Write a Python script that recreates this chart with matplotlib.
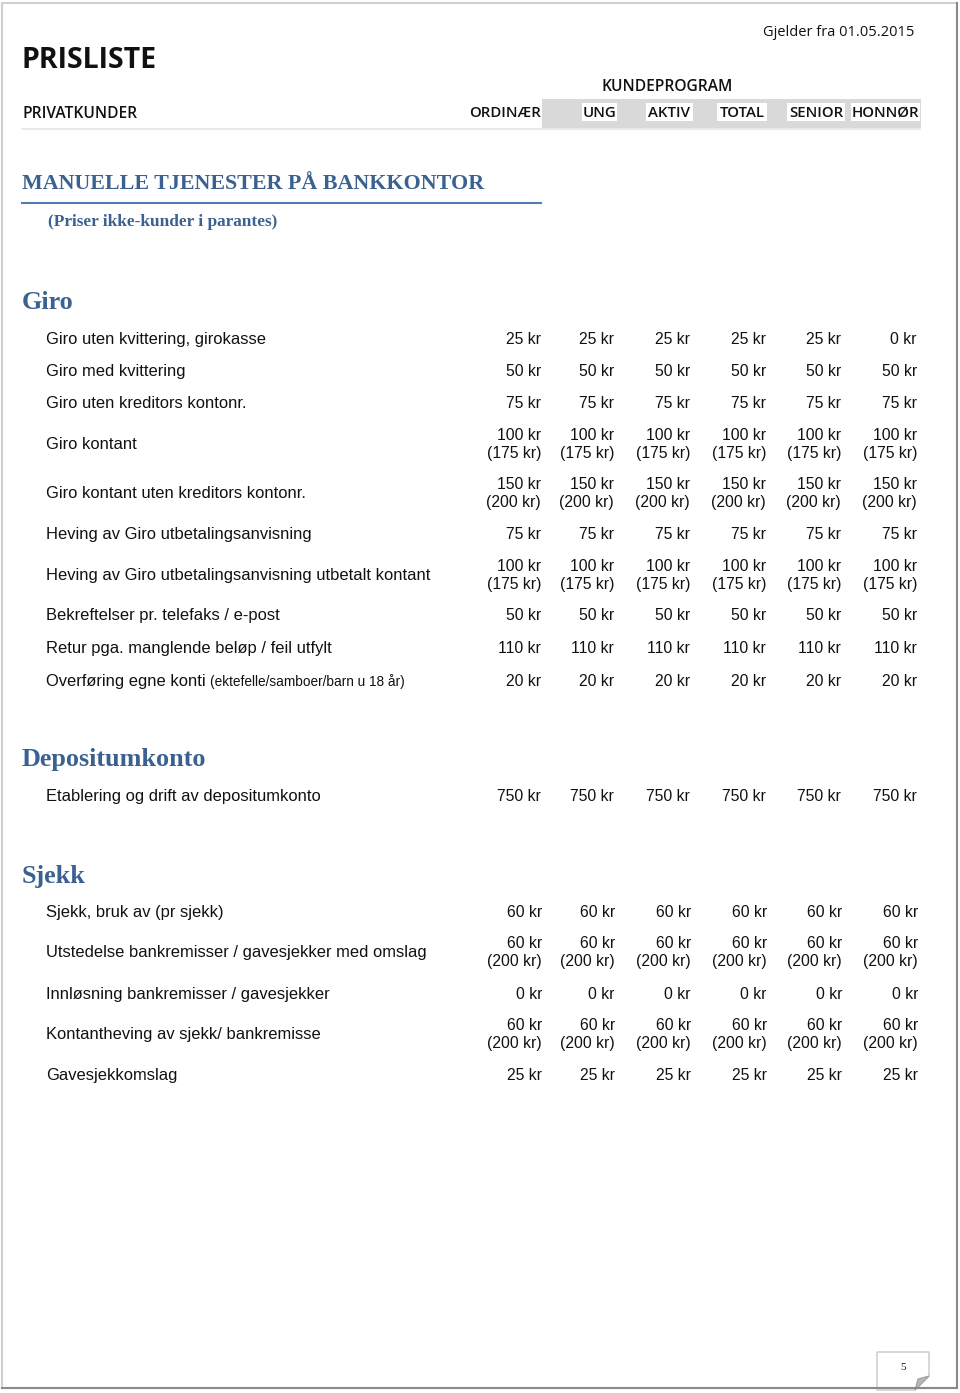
import matplotlib
matplotlib.use("Agg")
import matplotlib.pyplot as plt
from matplotlib.patches import Rectangle, Polygon

# ---------------- data ----------------
columns = ["ORDINÆR", "UNG", "AKTIV", "TOTAL", "SENIOR", "HONNØR"]

giro_items = [
    "Giro uten kvittering, girokasse",
    "Giro med kvittering",
    "Giro uten kreditors kontonr.",
    "Giro kontant",
    "Giro kontant uten kreditors kontonr.",
    "Heving av Giro utbetalingsanvisning",
    "Heving av Giro utbetalingsanvisning utbetalt kontant",
    "Bekreftelser pr. telefaks / e-post",
    "Retur pga. manglende beløp / feil utfylt",
    "Overføring egne konti",
]
giro_notes = ["", "", "", "", "", "", "", "", "", "(ektefelle/samboer/barn u 18 år)"]
giro_prices = [
    [25, 25, 25, 25, 25, 0],
    [50, 50, 50, 50, 50, 50],
    [75, 75, 75, 75, 75, 75],
    [100, 100, 100, 100, 100, 100],
    [150, 150, 150, 150, 150, 150],
    [75, 75, 75, 75, 75, 75],
    [100, 100, 100, 100, 100, 100],
    [50, 50, 50, 50, 50, 50],
    [110, 110, 110, 110, 110, 110],
    [20, 20, 20, 20, 20, 20],
]
giro_noncust = [None, None, None, 175, 200, None, 175, None, None, None]

depo_items = ["Etablering og drift av depositumkonto"]
depo_notes = [""]
depo_prices = [[750, 750, 750, 750, 750, 750]]
depo_noncust = [None]

sjekk_items = [
    "Sjekk, bruk av (pr sjekk)",
    "Utstedelse bankremisser / gavesjekker med omslag",
    "Innløsning bankremisser / gavesjekker",
    "Kontantheving av sjekk/ bankremisse",
    "Gavesjekkomslag",
]
sjekk_notes = ["", "", "", "", ""]
sjekk_prices = [
    [60, 60, 60, 60, 60, 60],
    [60, 60, 60, 60, 60, 60],
    [0, 0, 0, 0, 0, 0],
    [60, 60, 60, 60, 60, 60],
    [25, 25, 25, 25, 25, 25],
]
sjekk_noncust = [None, 200, None, 200, None]

# ---------------- layout ----------------
W, H = 960, 1393
fig = plt.figure(figsize=(W / 100, H / 100), dpi=100)
ax = fig.add_axes([0, 0, 1, 1])
ax.set_xlim(0, W)
ax.set_ylim(H, 0)
ax.axis("off")

SANS = ["Liberation Sans", "DejaVu Sans"]
HEAD = ["Open Sans", "DejaVu Sans"]
SERIF = ["Liberation Serif", "DejaVu Serif"]
BLUE = "#3A6190"
LABEL_FS = 11.85
VALUE_FS = 11.3
INK = "#111111"
DY = 1.5  # small baseline nudge

# page border
ax.add_patch(Rectangle((2, 3), 955, 1385, fill=False, ec="#d0d0d0", lw=1.5))
ax.plot([957, 957], [3, 1388], color="#8a8a8a", lw=1.5)
ax.plot([2, 957], [1388, 1388], color="#8a8a8a", lw=1.5)

# header
ax.text(22, 61, "PRISLISTE", family=HEAD, fontsize=20.5, weight="bold", va="center", ha="left", color=INK)
ax.text(914, 32.5, "Gjelder fra 01.05.2015", family=HEAD, fontsize=10.5, weight="medium",
        va="center", ha="right", color=INK)
ax.text(22, 113.5, "PRIVATKUNDER", family=HEAD, fontsize=11.2, weight="semibold", va="center", ha="left", color=INK)
ax.text(667, 87, "KUNDEPROGRAM", family=HEAD, fontsize=11.2, weight="semibold", va="center", ha="center", color=INK)
ax.plot([22, 920], [129, 129], color="#e6e6e6", lw=1.2)
ax.add_patch(Rectangle((542, 99), 379, 29, fc="#d9d9d9", ec="none"))
label_boxes = [(582, 35), (646, 47), (717, 50), (787, 58), (851, 69)]
for (bx, bw), lab in zip(label_boxes, columns[1:]):
    ax.add_patch(Rectangle((bx, 103), bw, 18, fc="white", ec="none"))
    ax.text(bx + bw / 2, 113, lab, family=HEAD, fontsize=10.8, weight="semibold",
            va="center", ha="center", color=INK)
ax.text(541, 113, columns[0], family=HEAD, fontsize=10.8, weight="semibold", va="center", ha="right", color=INK)

# main title
ax.text(22, 184, "MANUELLE TJENESTER PÅ BANKKONTOR", family=SERIF, fontsize=15.8, weight="bold",
        va="center", ha="left", color=BLUE)
ax.plot([22, 541], [203, 203], color="#4F7DB3", lw=1.5)
ax.text(48, 222.5, "(Priser ikke-kunder i parantes)", family=SERIF, fontsize=12.4, weight="bold",
        va="center", ha="left", color=BLUE)

col_right = [541, 614, 690, 766, 841, 917]


def draw_section(title, title_y, items, notes, prices, noncust, row_ys, col_dx=0):
    ax.text(22, title_y + DY, title, family=SERIF, fontsize=18.8, weight="bold", va="center", ha="left", color=BLUE)
    for item, note, pr, nc, y in zip(items, notes, prices, noncust, row_ys):
        y = y + DY
        t = ax.text(46, y, item, family=SANS, fontsize=LABEL_FS, va="center", ha="left", color=INK)
        if note:
            fig.canvas.draw()
            bb = t.get_window_extent()
            x_end = ax.transData.inverted().transform((bb.x1, bb.y0))[0]
            ax.text(x_end + 4, y + 0.5, note, family=SANS, fontsize=9.8, va="center", ha="left", color=INK)
        for xr, v in zip(col_right, pr):
            if nc is None:
                ax.text(xr + col_dx, y, f"{v} kr", family=SANS, fontsize=VALUE_FS, va="center", ha="right", color=INK)
            else:
                ax.text(xr + col_dx, y - 9, f"{v} kr", family=SANS, fontsize=VALUE_FS, va="center", ha="right", color=INK)
                ax.text(xr + col_dx, y + 9, f"({nc} kr)", family=SANS, fontsize=VALUE_FS, va="center", ha="right", color=INK)


giro_y = [338, 370, 402, 443, 492, 533, 574, 614, 647, 680]
draw_section("Giro", 301, giro_items, giro_notes, giro_prices, giro_noncust, giro_y)
draw_section("Depositumkonto", 758, depo_items, depo_notes, depo_prices, depo_noncust, [795])
sjekk_y = [911, 951, 993, 1033, 1074]
draw_section("Sjekk", 875, sjekk_items, sjekk_notes, sjekk_prices, sjekk_noncust, sjekk_y, col_dx=1)

# page number box with folded corner
ax.add_patch(Polygon([(877, 1352), (929, 1352), (929, 1376), (915, 1390), (877, 1390)],
                     closed=True, fc="white", ec="#c8c8c8", lw=1))
ax.add_patch(Polygon([(929, 1376), (915, 1390), (918, 1379)], closed=True, fc="#b8b8b8", ec="#a0a0a0", lw=0.8))
ax.text(903, 1367, "5", family=SERIF, fontsize=8, va="center", ha="center", color=INK)

fig.savefig("out.png", dpi=100)
